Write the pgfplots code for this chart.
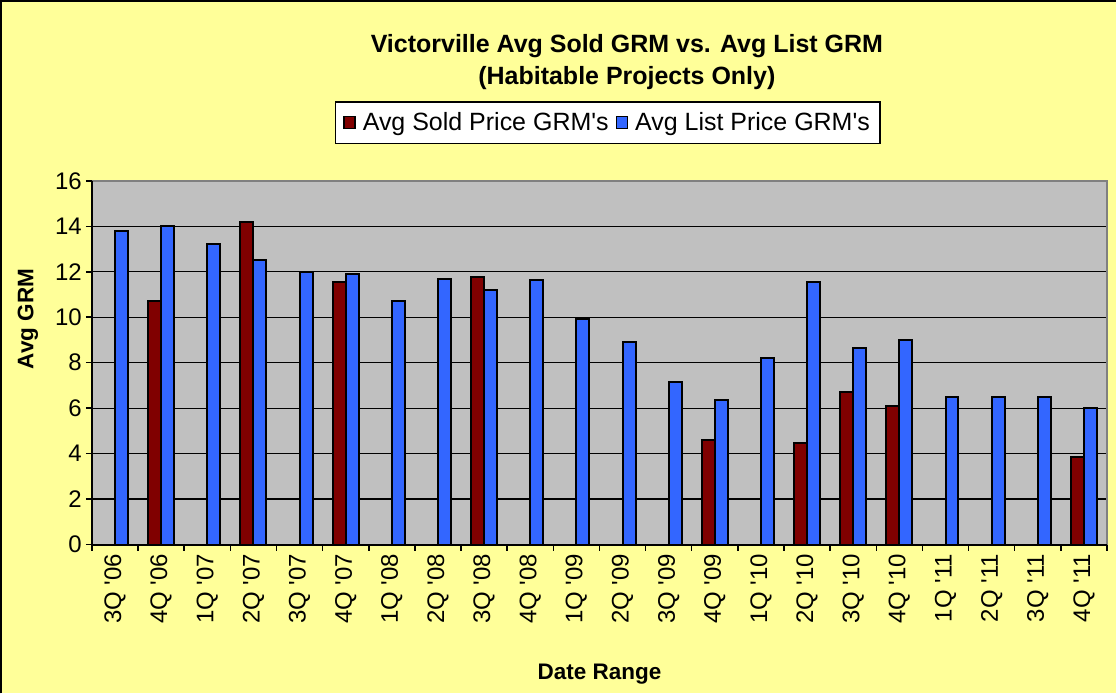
\documentclass[border=0pt]{standalone}
\usepackage{pgfplots}
\pgfplotsset{compat=1.18}
\usepackage{fontspec}
\setmainfont{Liberation Sans}
\definecolor{bgyellow}{HTML}{FFFF99}
\definecolor{plotgray}{HTML}{C0C0C0}
\definecolor{soldc}{HTML}{800000}
\definecolor{listc}{HTML}{3366FF}
\definecolor{framegray}{HTML}{808080}
\newcommand\q{\textquotesingle}
\begin{document}
\begin{tikzpicture}[x=1pt,y=1pt]
\fill[bgyellow] (0,0) rectangle (1117,694);
\draw[black, line width=2pt] (1,0) -- (1,693) -- (1117,693);
\begin{axis}[
  at={(92pt,149pt)}, anchor=south west,
  scale only axis, width=1016pt, height=364pt,
  xmin=-0.5, xmax=21.5, ymin=0, ymax=16,
  ytick={0,2,...,16},
  xtick={-0.5,0.5,...,21.5},
  x tick label as interval,
  xtick pos=bottom, ytick pos=left,
  xticklabels={3Q \q06,4Q \q06,1Q \q07,2Q \q07,3Q \q07,4Q \q07,1Q \q08,2Q \q08,3Q \q08,4Q \q08,1Q \q09,2Q \q09,3Q \q09,4Q \q09,1Q \q10,2Q \q10,3Q \q10,4Q \q10,1Q \q11,2Q \q11,3Q \q11,4Q \q11},
  ymajorgrids, major grid style={black, line width=1.2pt},
  tick align=outside, major tick length=6pt,
  tick style={black, line width=1.5pt},
  axis line style={draw=none},
  axis background/.style={fill=plotgray},
  clip=false,
  ybar=0pt, bar width=13pt,
  /pgf/number format/assume math mode=true,
  ticklabel style={font=\fontsize{24}{24}\selectfont},
  yticklabel style={inner xsep=4pt},
  xticklabel style={rotate=90, anchor=east},
  title={Victorville Avg Sold GRM vs. Avg List GRM\\(Habitable Projects Only)},
  title style={at={(axis description cs:0.527,1.31)}, anchor=center, align=center, font=\bfseries\fontsize{25}{32}\selectfont},
  xlabel={Date Range},
  xlabel style={at={(axis description cs:0.5,0)}, anchor=center, yshift=-130pt, font=\bfseries\fontsize{22.5}{26}\selectfont},
  ylabel={Avg GRM},
  ylabel style={at={(axis description cs:-0.063,0.62)}, anchor=center, font=\bfseries\fontsize{22.5}{26}\selectfont},
  legend columns=2,
  legend style={at={(axis description cs:0.508,1.16)}, anchor=center, draw=black, line width=1.5pt, fill=white,
    inner xsep=8pt, inner ysep=9pt,
    font=\fontsize{25}{29}\selectfont,
    /tikz/every odd column/.append style={column sep=5pt},
    /tikz/every even column/.append style={column sep=5pt}},
]
\addplot[fill=soldc, draw=black, line width=2pt,
  legend image code/.code={\draw[fill=soldc,draw=black,line width=1.5pt] (0pt,-6pt) rectangle (11pt,6pt);}]
  coordinates {(1,10.7) (3,14.2) (5,11.55) (8,11.75) (13,4.6) (15,4.45) (16,6.7) (17,6.1) (21,3.85)};
\addlegendentry{Avg Sold Price GRM\q s}
\addplot[fill=listc, draw=black, line width=2pt,
  legend image code/.code={\draw[fill=listc,draw=black,line width=1.5pt] (0pt,-6pt) rectangle (11pt,6pt);}]
  coordinates {(0,13.8) (1,14.0) (2,13.2) (3,12.5) (4,12.0) (5,11.9) (6,10.7) (7,11.7) (8,11.2) (9,11.65) (10,9.9) (11,8.9) (12,7.15) (13,6.35) (14,8.2) (15,11.55) (16,8.65) (17,9.0) (18,6.5) (19,6.5) (20,6.5) (21,6.0)};
\addlegendentry{Avg List Price GRM\q s}
\draw[framegray, line width=1.5pt] (rel axis cs:0,1) -- (rel axis cs:1,1) -- (rel axis cs:1,0);
\draw[black, line width=2pt] (rel axis cs:0,1) -- (rel axis cs:0,0) -- (rel axis cs:1,0);
\end{axis}
\end{tikzpicture}
\end{document}
